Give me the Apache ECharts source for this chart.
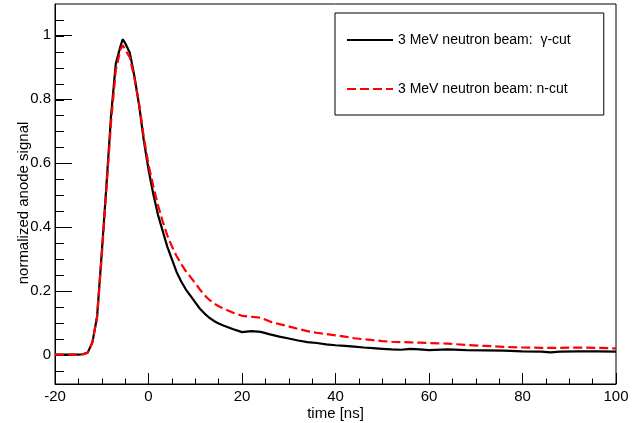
<!DOCTYPE html>
<html>
<head>
<meta charset="utf-8">
<script src="https://cdn.jsdelivr.net/npm/echarts@6/dist/echarts.min.js"></script>
<style>
html,body{margin:0;padding:0;background:#fff;}
#chart{width:642px;height:423px;}
</style>
</head>
<body>
<div id="chart"></div>
<script>
const times = [-20,-18,-16,-15,-14,-13,-12,-11,-10,-9,-8,-7,-6,-5.5,-5,-4,-3,-2,-1,0,1,2,3,4,5,6,7,8,9,10,11,12,13,14,15,16,18,20,22,24,26,28,30,32,34,36,38,40,42,44,46,48,50,52,54,56,58,60,64,68,72,76,80,84,86,88,92,96,100];
const gammaCut = [0.002,0.002,0.002,0.002,0.003,0.008,0.04,0.12,0.32,0.53,0.75,0.91,0.965,0.987,0.975,0.945,0.87,0.78,0.67,0.58,0.505,0.44,0.39,0.34,0.30,0.26,0.23,0.205,0.185,0.165,0.145,0.13,0.117,0.107,0.099,0.093,0.082,0.072,0.075,0.073,0.065,0.058,0.052,0.046,0.041,0.038,0.034,0.031,0.029,0.027,0.024,0.022,0.02,0.018,0.017,0.02,0.018,0.016,0.018,0.016,0.015,0.014,0.012,0.011,0.009,0.011,0.012,0.012,0.011];
const nCut = [0.002,0.002,0.002,0.002,0.003,0.008,0.04,0.12,0.31,0.52,0.73,0.89,0.955,0.968,0.955,0.93,0.865,0.785,0.68,0.595,0.53,0.47,0.42,0.375,0.34,0.31,0.285,0.262,0.244,0.225,0.205,0.187,0.173,0.162,0.153,0.146,0.133,0.123,0.12,0.117,0.105,0.097,0.09,0.082,0.075,0.07,0.066,0.062,0.058,0.053,0.05,0.047,0.044,0.042,0.041,0.04,0.039,0.038,0.036,0.032,0.029,0.026,0.024,0.023,0.023,0.023,0.024,0.023,0.021];
const seriesNames = ['3 MeV neutron beam:  \u03b3-cut', '3 MeV neutron beam: n-cut'];
const xTitle = 'time [ns]';
const yTitle = 'normalized anode signal';

const FONT = '"Liberation Sans", Arial, Helvetica, sans-serif';
const pairs = (vals) => times.map((t, i) => [t, vals[i]]);

const chart = echarts.init(document.getElementById('chart'), null, {renderer: 'canvas'});
chart.setOption({
  animation: false,
  backgroundColor: '#fff',
  grid: [
    {left: 55, right: 26, top: 4, bottom: 39, show: true, borderColor: '#000', borderWidth: 1, backgroundColor: 'transparent', containLabel: false, outerBoundsMode: 'none'},
    {left: 55, right: 26, top: 20, bottom: 52, show: false, containLabel: false, outerBoundsMode: 'none'},
    {left: 55, right: 26, top: 35, bottom: 68, show: false, containLabel: false, outerBoundsMode: 'none'}
  ],
  xAxis: [
    {
      type: 'value', gridIndex: 0, min: -20, max: 100, interval: 20,
      name: xTitle, nameLocation: 'middle', nameGap: 22, nameMoveOverlap: false,
      nameTextStyle: {color: '#000', fontFamily: FONT, fontSize: 15},
      axisLine: {show: true, onZero: false, lineStyle: {color: '#000', width: 1}},
      axisTick: {show: true, inside: true, length: 11, lineStyle: {color: '#000'}},
      minorTick: {show: true, splitNumber: 4, length: 5.5, lineStyle: {color: '#000'}},
      axisLabel: {color: '#000', fontFamily: FONT, fontSize: 15, margin: 5},
      splitLine: {show: false}
    },
    {type: 'value', gridIndex: 1, min: -20, max: 100, show: false},
    {type: 'value', gridIndex: 2, min: -20, max: 100, show: false}
  ],
  yAxis: [
    {
      type: 'value', gridIndex: 0, min: -0.09, max: 1.097, splitNumber: 5,
      name: yTitle, nameLocation: 'middle', nameGap: 24, nameMoveOverlap: false,
      nameTextStyle: {color: '#000', fontFamily: FONT, fontSize: 15, padding: [0, 18, 0, 0]},
      axisLine: {show: true, onZero: false, lineStyle: {color: '#000', width: 1}},
      axisTick: {show: false},
      axisLabel: {color: '#000', fontFamily: FONT, fontSize: 15, margin: 4, showMinLabel: false, showMaxLabel: false,
        formatter: (v) => {
          const r = Math.round(v * 10) / 10;
          if (Math.abs(v - r) > 1e-6 || Math.abs(Math.round(r * 5) - r * 5) > 1e-6) return '';
          return String(r);
        }},
      splitLine: {show: false}
    },
    {
      type: 'value', gridIndex: 1, min: -0.05, max: 1.05, interval: 0.05,
      axisLine: {show: false, onZero: false},
      axisTick: {show: true, inside: true, length: 9, lineStyle: {color: '#000'}},
      axisLabel: {show: false},
      splitLine: {show: false}
    },
    {
      type: 'value', gridIndex: 2, min: 0, max: 1, interval: 0.2,
      axisLine: {show: false, onZero: false},
      axisTick: {show: true, inside: true, length: 17, lineStyle: {color: '#000'}},
      axisLabel: {show: false},
      splitLine: {show: false}
    }
  ],
  legend: {
    left: 335, top: 13, orient: 'vertical',
    padding: [20, 33, 19, 11],
    itemGap: 35, itemWidth: 46, itemHeight: 14,
    backgroundColor: '#fff', borderColor: '#000', borderWidth: 1, borderRadius: 0,
    textStyle: {color: '#000', fontFamily: FONT, fontSize: 14},
    itemStyle: {opacity: 0},
    data: seriesNames
  },
  series: [
    {
      name: seriesNames[0], type: 'line', xAxisIndex: 0, yAxisIndex: 0,
      data: pairs(gammaCut), showSymbol: false, symbol: 'none',
      lineStyle: {color: '#000', width: 2.2}, itemStyle: {color: '#000'},
      z: 2
    },
    {
      name: seriesNames[1], type: 'line', xAxisIndex: 0, yAxisIndex: 0,
      data: pairs(nCut), showSymbol: false, symbol: 'none',
      lineStyle: {color: '#ff0000', width: 2.2, type: [9, 4]}, itemStyle: {color: '#ff0000'},
      z: 3
    }
  ]
});
</script>
</body>
</html>
